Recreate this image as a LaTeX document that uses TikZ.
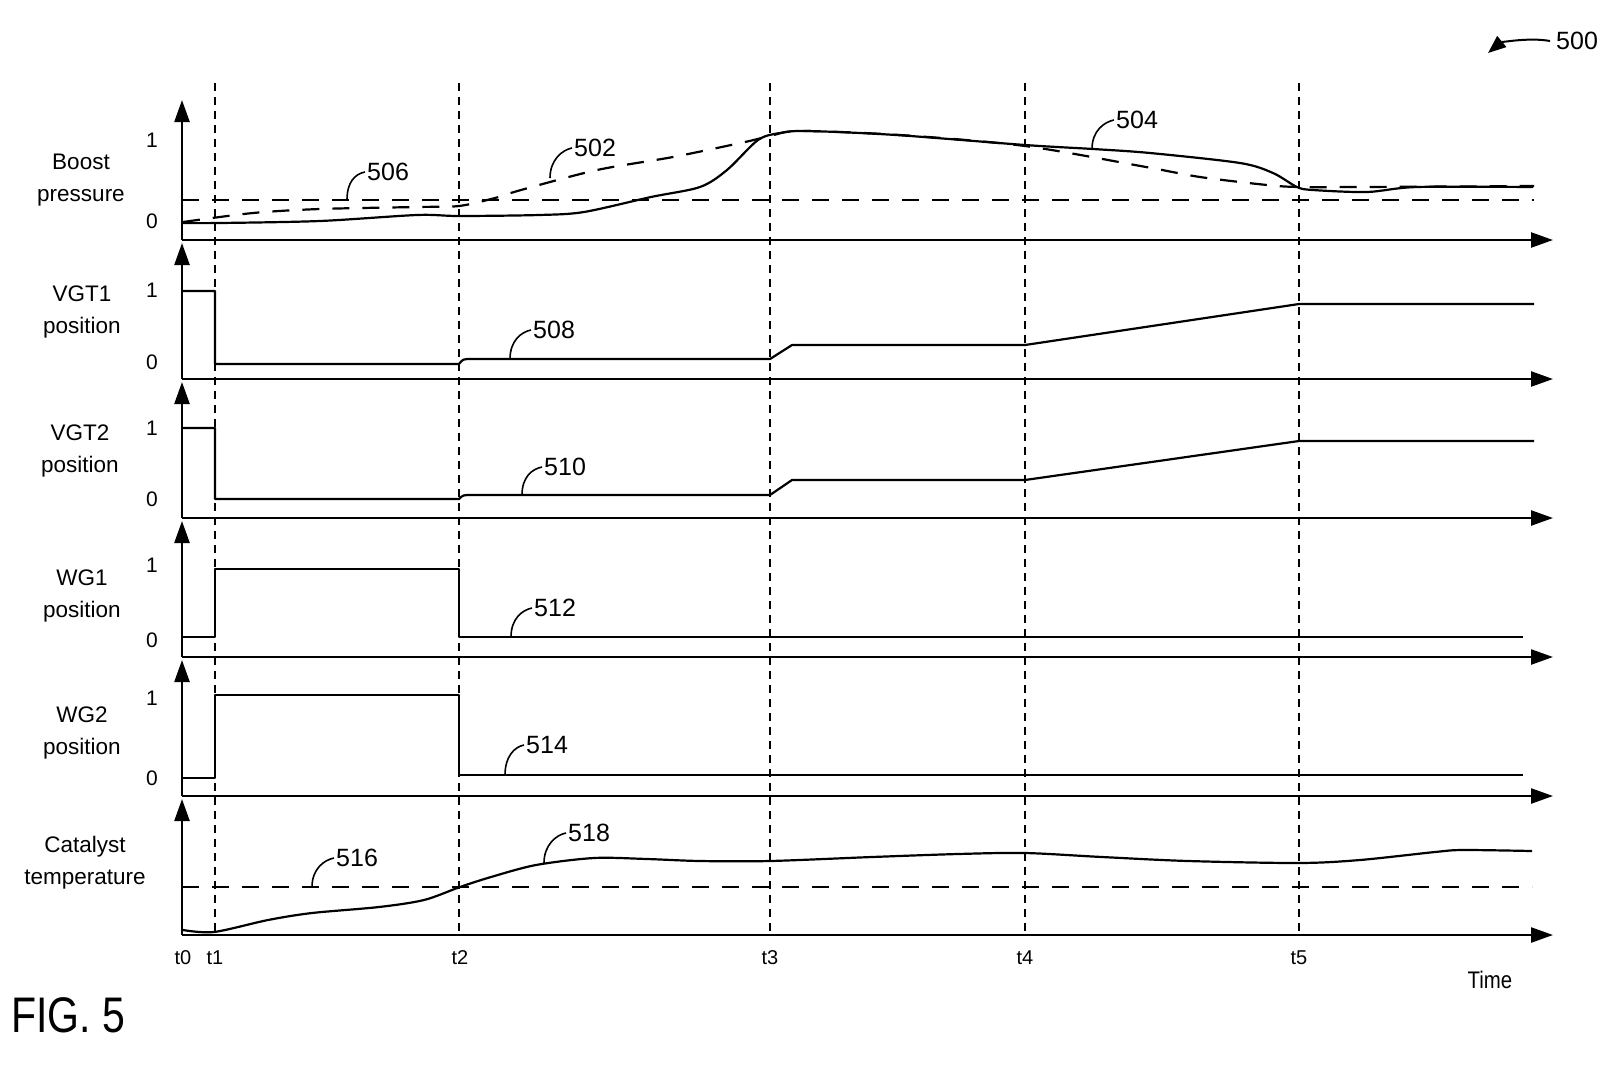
\documentclass[tikz,border=0pt]{standalone}
\usepackage{fontspec}
\setmainfont{Liberation Sans}
\newfontfamily\narrowfont{Liberation Sans}[FakeStretch=0.85]
\usetikzlibrary{arrows.meta}

\begin{document}
\begin{tikzpicture}[x=1pt,y=-1pt,>={Triangle[length=22pt,width=15pt]},
    axis/.style={->,line width=2.4pt},
    marker/.style={line width=1.8pt,dash pattern=on 8pt off 6pt},
    limit/.style={line width=2.2pt,dash pattern=on 17pt off 13pt},
    trace/.style={line width=2.2pt,line join=round},
    leader/.style={line width=1.6pt},
    lbl/.style={align=center,inner sep=0pt,font=\fontsize{22.5}{32}\selectfont},
    tick/.style={inner sep=0pt,font=\fontsize{21}{24}\selectfont},
    refnum/.style={anchor=west,inner sep=0pt,font=\fontsize{25}{28}\selectfont},
    tlbl/.style={inner sep=0pt,font=\fontsize{20}{24}\selectfont}]

    \useasboundingbox (0,0) rectangle (1600,1066);

    % time markers
    \foreach \x in {215,459,770,1025,1299}
        \draw[marker] (\x,83) -- (\x,935);

    % axes of the six panels
    \foreach \ya/\yb in {240/100,379/243,518/382,657/521,796/660,935/799} {
        \draw[axis] (182,\ya) -- (182,\yb);
        \draw[axis] (182,\ya) -- (1553,\ya);
    }

    % panel labels
    \node[lbl] (boost) at (81,180) {Boost\\pressure};
    \node[lbl] (vgt1) at (82,312) {VGT1\\position};
    \node[lbl] (vgt2) at (80,451) {VGT2\\position};
    \node[lbl] (wg1) at (82,596) {WG1\\position};
    \node[lbl] (wg2) at (82,733) {WG2\\position};
    \node[lbl] (cat) at (85,863) {Catalyst\\temperature};

    \node[tick] (b1) at (152,140) {1};  \node[tick] (b0) at (152,221) {0};
    \node[tick] (v11) at (152,290) {1}; \node[tick] (v10) at (152,362) {0};
    \node[tick] (v21) at (152,428) {1}; \node[tick] (v20) at (152,499) {0};
    \node[tick] (w11) at (152,565) {1}; \node[tick] (w10) at (152,640) {0};
    \node[tick] (w21) at (152,698) {1}; \node[tick] (w20) at (152,778) {0};

    % boost pressure
    \draw[limit] (182,200) -- (1534,200);
    \draw[limit] plot[smooth,tension=0.5] coordinates {(183,222) (253,213) (320,209)
        (417,207) (459,206) (495,198) (521,190) (597,170) (673,157) (745,142)
        (770,136) (800,131) (900,135) (1025,146) (1146,167) (1200,177) (1267,185)
        (1299,187) (1360,187) (1534,186)};
    \draw[trace] plot[smooth,tension=0.5] coordinates {(183,223) (220,223) (320,221)
        (417,215) (459,216) (539,215) (584,212) (651,197) (700,187) (727,170)
        (758,140) (780,133) (807,131) (896,135) (1025,145) (1093,149) (1150,153)
        (1240,163) (1273,173) (1297,187) (1313,190) (1367,192) (1417,187) (1533,187)};

    % VGT1 and VGT2
    \draw[trace] (182,291) -- (215,291) -- (215,364) -- (459,364)
        .. controls (463,359) .. (472,359) -- (770,359) -- (792,345)
        -- (1025,345) -- (1299,304) -- (1534,304);
    \draw[trace] (182,428) -- (215,428) -- (215,499) -- (459,499)
        .. controls (463,495) .. (472,495) -- (770,495) -- (792,480)
        -- (1025,480) -- (1299,441) -- (1534,441);

    % WG1 and WG2
    \draw[trace] (182,637) -- (215,637) -- (215,569) -- (459,569) -- (459,637) -- (1523,637);
    \draw[trace] (182,778) -- (215,778) -- (215,695) -- (459,695) -- (459,775) -- (1523,775);

    % catalyst temperature
    \draw[limit] (182,887) -- (1532,887);
    \draw[trace] plot[smooth,tension=0.5] coordinates {(183,930) (214,932) (268,920)
        (312,913) (379,907) (424,900) (460,887) (491,877) (536,865) (594,858)
        (647,859) (700,861) (770,861) (872,857) (958,854) (1025,853) (1102,857)
        (1188,861) (1299,863) (1360,860) (1435,852) (1463,850) (1532,851)};

    % reference numerals
    \node[refnum] (n506) at (367,172) {506};
    \node[refnum] (n502) at (574,148) {502};
    \node[refnum] (n504) at (1116,120) {504};
    \node[refnum] (n508) at (533,330) {508};
    \node[refnum] (n510) at (544,467) {510};
    \node[refnum] (n512) at (534,608) {512};
    \node[refnum] (n514) at (526,745) {514};
    \node[refnum] (n516) at (336,858) {516};
    \node[refnum] (n518) at (568,833) {518};

    \coordinate (c506) at (347,200);
    \coordinate (c502) at (550,178);
    \coordinate (c504) at (1092,149);
    \coordinate (c508) at (510,359);
    \coordinate (c510) at (522,495);
    \coordinate (c512) at (511,637);
    \coordinate (c514) at (505,775);
    \coordinate (c516) at (312,887);
    \coordinate (c518) at (544,863);

    \draw[leader] (c506) .. controls +(0,-18) and +(-10,2) .. ([xshift=-2pt]n506.west);
    \draw[leader] (c502) .. controls +(0,-18) and +(-10,2) .. ([xshift=-2pt]n502.west);
    \draw[leader] (c504) .. controls +(0,-18) and +(-10,2) .. ([xshift=-2pt]n504.west);
    \draw[leader] (c508) .. controls +(0,-18) and +(-10,2) .. ([xshift=-2pt]n508.west);
    \draw[leader] (c510) .. controls +(0,-18) and +(-10,2) .. ([xshift=-2pt]n510.west);
    \draw[leader] (c512) .. controls +(0,-18) and +(-10,2) .. ([xshift=-2pt]n512.west);
    \draw[leader] (c514) .. controls +(0,-18) and +(-10,2) .. ([xshift=-2pt]n514.west);
    \draw[leader] (c516) .. controls +(0,-18) and +(-10,2) .. ([xshift=-2pt]n516.west);
    \draw[leader] (c518) .. controls +(0,-18) and +(-10,2) .. ([xshift=-2pt]n518.west);

    % time labels
    \node[tlbl] (t0) at (183,958) {t0};
    \node[tlbl] (t1) at (215,958) {t1};
    \node[tlbl] (t2) at (460,958) {t2};
    \node[tlbl] (t3) at (770,958) {t3};
    \node[tlbl] (t4) at (1025,958) {t4};
    \node[tlbl] (t5) at (1299,958) {t5};
    \node[inner sep=0pt,font=\narrowfont\fontsize{24}{26}\selectfont] (time) at (1490,980) {Time};

    % figure number and reference
    \node[inner sep=0pt,font=\fontsize{50}{50}\selectfont] (fig) at (68,1015) {\scalebox{0.82}[1]{FIG. 5}};
    \node[refnum] (n500) at (1556,41) {500};
    \coordinate (a500) at (1488,53);
    \draw[leader,line width=2pt,->,>={Triangle[length=18pt,width=14pt]}]
        ([xshift=-6pt]n500.west) .. controls +(-22,-4) and +(12,-10) .. (a500);
\end{tikzpicture}
\end{document}
